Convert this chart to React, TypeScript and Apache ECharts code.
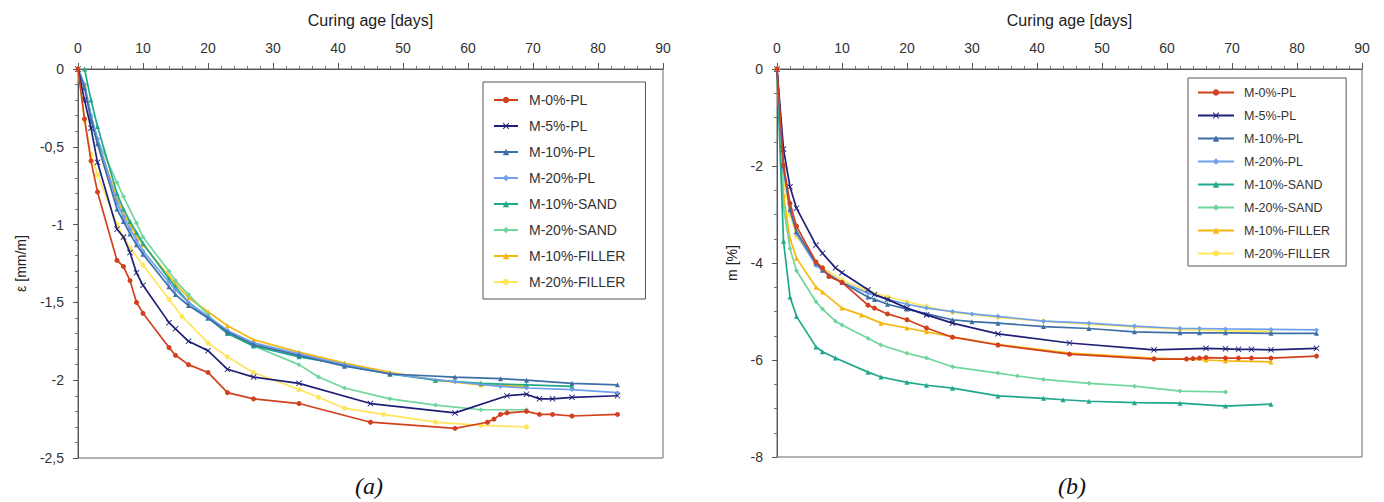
import React, { useEffect, useRef } from "react";
import * as echarts from "echarts";

const SERIES_NAMES = [
  "M-0%-PL",
  "M-5%-PL",
  "M-10%-PL",
  "M-20%-PL",
  "M-10%-SAND",
  "M-20%-SAND",
  "M-10%-FILLER",
  "M-20%-FILLER",
];

const COLORS = ["#d2401e", "#1f1f78", "#3e6ea6", "#6fa0ec", "#1fa88c", "#70d69c", "#f6b70f", "#ffe55a"];

const X_AXIS_NAME = "Curing age [days]";
const Y_NAME_A = "ε [mm/m]";
const Y_NAME_B = "m [%]";

// (a) strain ε [mm/m] vs curing age [days]
const EPS_M0PL = [[0,0],[1,-0.32],[2,-0.59],[3,-0.79],[6,-1.23],[7,-1.27],[8,-1.36],[9,-1.5],[10,-1.57],[14,-1.79],[15,-1.84],[17,-1.9],[20,-1.95],[23,-2.08],[27,-2.12],[34,-2.15],[45,-2.27],[58,-2.31],[63,-2.27],[64,-2.25],[65,-2.22],[66,-2.21],[69,-2.2],[71,-2.22],[73,-2.22],[76,-2.23],[83,-2.22]];
const EPS_M5PL = [[0,0],[1,-0.2],[2,-0.38],[3,-0.6],[6,-1.03],[7,-1.08],[8,-1.18],[9,-1.31],[10,-1.39],[14,-1.63],[15,-1.67],[17,-1.75],[20,-1.81],[23,-1.93],[27,-1.98],[34,-2.02],[45,-2.15],[58,-2.21],[66,-2.1],[69,-2.09],[71,-2.12],[73,-2.12],[76,-2.11],[83,-2.1]];
const EPS_M10PL = [[0,0],[1,-0.12],[2,-0.33],[3,-0.48],[6,-0.9],[7,-0.98],[8,-1.06],[9,-1.13],[10,-1.19],[14,-1.4],[15,-1.45],[17,-1.52],[20,-1.6],[23,-1.69],[27,-1.77],[34,-1.84],[41,-1.91],[48,-1.96],[58,-1.98],[65,-1.99],[69,-2.0],[76,-2.02],[83,-2.03]];
const EPS_M20PL = [[0,0],[1,-0.1],[2,-0.3],[3,-0.45],[6,-0.86],[7,-0.95],[8,-1.03],[9,-1.1],[10,-1.17],[14,-1.37],[15,-1.42],[17,-1.5],[20,-1.59],[23,-1.68],[27,-1.76],[34,-1.83],[41,-1.9],[48,-1.96],[58,-2.01],[65,-2.04],[69,-2.05],[76,-2.06],[83,-2.08]];
const EPS_M10SAND = [[1,0],[2,-0.2],[3,-0.37],[6,-0.8],[7,-0.9],[8,-0.98],[9,-1.05],[10,-1.12],[14,-1.35],[15,-1.4],[17,-1.5],[20,-1.6],[23,-1.7],[27,-1.78],[34,-1.85],[41,-1.9],[48,-1.96],[55,-2.0],[62,-2.02],[69,-2.03],[76,-2.04]];
const EPS_M20SAND = [[0,0],[1,-0.1],[2,-0.3],[3,-0.45],[6,-0.73],[7,-0.82],[9,-0.99],[10,-1.08],[14,-1.3],[15,-1.36],[17,-1.45],[20,-1.58],[23,-1.7],[27,-1.78],[34,-1.9],[37,-1.98],[41,-2.05],[48,-2.12],[55,-2.16],[62,-2.19],[69,-2.19]];
const EPS_M10FILLER = [[0,0],[1,-0.1],[2,-0.3],[3,-0.46],[6,-0.83],[7,-0.93],[8,-1.0],[9,-1.07],[10,-1.13],[14,-1.33],[15,-1.38],[17,-1.47],[20,-1.56],[23,-1.65],[27,-1.74],[34,-1.82],[41,-1.89],[48,-1.95],[55,-2.0],[62,-2.03],[69,-2.04]];
const EPS_M20FILLER = [[0,0],[1,-0.33],[2,-0.55],[3,-0.68],[6,-1.0],[7,-1.08],[8,-1.15],[10,-1.26],[14,-1.48],[16,-1.59],[20,-1.76],[23,-1.85],[27,-1.95],[34,-2.06],[37,-2.11],[41,-2.18],[47,-2.22],[55,-2.27],[62,-2.29],[69,-2.3]];

// (b) mass change m [%] vs curing age [days]
const M_M0PL = [[0,0],[1,-1.98],[2,-2.77],[3,-3.24],[6,-3.98],[7,-4.1],[8,-4.28],[10,-4.4],[14,-4.87],[15,-4.93],[17,-5.05],[20,-5.17],[23,-5.34],[27,-5.53],[34,-5.69],[45,-5.88],[58,-5.98],[63,-5.98],[64,-5.97],[65,-5.96],[66,-5.95],[69,-5.96],[71,-5.96],[73,-5.96],[76,-5.96],[83,-5.92]];
const M_M5PL = [[0,0],[1,-1.65],[2,-2.43],[3,-2.87],[6,-3.63],[7,-3.8],[9,-4.1],[10,-4.2],[14,-4.55],[15,-4.65],[17,-4.75],[20,-4.93],[23,-5.07],[27,-5.24],[34,-5.46],[45,-5.65],[58,-5.79],[66,-5.76],[69,-5.77],[71,-5.78],[73,-5.78],[76,-5.79],[83,-5.76]];
const M_M10PL = [[0,0],[1,-2.0],[2,-2.9],[3,-3.35],[6,-4.0],[7,-4.15],[8,-4.25],[10,-4.4],[14,-4.7],[15,-4.75],[17,-4.85],[20,-4.95],[23,-5.05],[27,-5.17],[30,-5.21],[34,-5.24],[41,-5.31],[48,-5.35],[55,-5.42],[62,-5.44],[65,-5.44],[69,-5.44],[76,-5.45],[83,-5.45]];
const M_M20PL = [[0,0],[1,-2.1],[2,-2.9],[3,-3.4],[6,-4.05],[7,-4.15],[10,-4.4],[14,-4.62],[17,-4.75],[20,-4.85],[23,-4.93],[27,-5.0],[30,-5.05],[34,-5.1],[41,-5.2],[48,-5.24],[55,-5.3],[62,-5.35],[65,-5.35],[69,-5.36],[76,-5.37],[83,-5.38]];
const M_M10SAND = [[0,0],[1,-3.55],[2,-4.7],[3,-5.1],[6,-5.73],[7,-5.83],[9,-5.96],[14,-6.25],[16,-6.35],[20,-6.46],[23,-6.52],[27,-6.58],[34,-6.74],[41,-6.79],[44,-6.82],[48,-6.85],[55,-6.88],[62,-6.89],[69,-6.95],[76,-6.91]];
const M_M20SAND = [[0,0],[1,-2.85],[2,-3.7],[3,-4.16],[6,-4.8],[7,-4.95],[9,-5.2],[10,-5.28],[14,-5.55],[16,-5.69],[20,-5.86],[23,-5.96],[27,-6.14],[34,-6.27],[37,-6.33],[41,-6.4],[48,-6.48],[55,-6.54],[62,-6.64],[69,-6.66]];
const M_M10FILLER = [[0,0],[1,-2.6],[2,-3.5],[3,-3.9],[6,-4.5],[7,-4.6],[10,-4.93],[13,-5.07],[16,-5.24],[20,-5.34],[23,-5.42],[27,-5.52],[34,-5.68],[45,-5.86],[58,-5.96],[66,-6.0],[69,-6.02],[76,-6.04]];
const M_M20FILLER = [[0,0],[1,-2.3],[2,-3.0],[3,-3.45],[6,-4.0],[7,-4.1],[10,-4.35],[14,-4.58],[17,-4.7],[20,-4.8],[23,-4.9],[27,-5.02],[34,-5.12],[41,-5.2],[48,-5.26],[55,-5.32],[62,-5.37],[69,-5.4],[76,-5.41]];

const DATA_A = [EPS_M0PL, EPS_M5PL, EPS_M10PL, EPS_M20PL, EPS_M10SAND, EPS_M20SAND, EPS_M10FILLER, EPS_M20FILLER];
const DATA_B = [M_M0PL, M_M5PL, M_M10PL, M_M20PL, M_M10SAND, M_M20SAND, M_M10FILLER, M_M20FILLER];

const X_SYMBOL = "path://M0,1L1,0L5,4L9,0L10,1L6,5L10,9L9,10L5,6L1,10L0,9L4,5Z";
const SYMBOLS = ["circle", X_SYMBOL, "triangle", "diamond", "triangle", "diamond", "triangle", "circle"];

const FONT = "Liberation Sans, Arial, sans-serif";
const AXIS_COLOR = "#555";

function xAxisCfg(gridIndex: number) {
  return {
    gridIndex,
    type: "value",
    position: "top",
    min: 0,
    max: 90,
    interval: 10,
    axisLine: { show: true, onZero: false, lineStyle: { color: AXIS_COLOR, width: 1 } },
    axisTick: { show: true, inside: false, length: 6, lineStyle: { color: AXIS_COLOR } },
    minorTick: { show: true, splitNumber: 5, length: 3, lineStyle: { color: "#777" } },
    splitLine: { show: false },
    axisLabel: { fontSize: 14, color: "#333", margin: 14, fontFamily: FONT },
    name: X_AXIS_NAME,
    nameLocation: "middle",
    nameGap: 41,
    nameTextStyle: { fontSize: 16, color: "#222", fontFamily: FONT },
  };
}

function yAxisCfg(gridIndex: number, min: number, interval: number, minorSplit: number, name: string, nameGap: number) {
  return {
    gridIndex,
    type: "value",
    min,
    max: 0,
    interval,
    axisLine: { show: true, onZero: false, lineStyle: { color: AXIS_COLOR, width: 1 } },
    axisTick: { show: true, inside: false, length: 5, lineStyle: { color: AXIS_COLOR } },
    minorTick: { show: true, splitNumber: minorSplit, length: 3, lineStyle: { color: "#777" } },
    splitLine: { show: false },
    axisLabel: {
      fontSize: 14,
      color: "#333",
      margin: 14,
      fontFamily: FONT,
      formatter: (v: number) => String(v).replace(".", ","),
    },
    name,
    nameLocation: "middle",
    nameRotate: 90,
    nameGap,
    nameTextStyle: { fontSize: 14, color: "#222", fontFamily: FONT },
  };
}

function buildSeries(data: number[][][], idx: number, size: number) {
  return data.map((d, i) => ({
    name: SERIES_NAMES[i],
    type: "line",
    xAxisIndex: idx,
    yAxisIndex: idx,
    data: d,
    symbol: SYMBOLS[i],
    symbolSize: i === 1 ? size + 1 : size,
    showSymbol: true,
    lineStyle: { width: 1.7, color: COLORS[i] },
    itemStyle: { color: COLORS[i] },
    z: 10 - i,
  }));
}

export default function App() {
  const ref = useRef<HTMLDivElement>(null);
  useEffect(() => {
    if (!ref.current) return;
    const chart = echarts.init(ref.current, undefined, { renderer: "svg" });
    const option = {
      animation: false,
      backgroundColor: "#ffffff",
      color: COLORS,
      grid: [
        { left: 78, top: 69, width: 585, height: 389, show: true, borderColor: "#666", borderWidth: 1, backgroundColor: "transparent" },
        { left: 777, top: 69, width: 585, height: 388, show: true, borderColor: "#666", borderWidth: 1, backgroundColor: "transparent" },
      ],
      xAxis: [xAxisCfg(0), xAxisCfg(1)],
      yAxis: [
        yAxisCfg(0, -2.5, 0.5, 5, Y_NAME_A, 50),
        yAxisCfg(1, -8, 2, 4, Y_NAME_B, 38),
      ],
      legend: [
        {
          data: SERIES_NAMES,
          orient: "vertical",
          left: 483,
          top: 82,
          padding: [11, 20, 10, 10],
          itemGap: 12,
          itemWidth: 24,
          itemHeight: 8,
          borderColor: "#555",
          borderWidth: 1,
          backgroundColor: "#fff",
          textStyle: { fontSize: 14, color: "#333", fontFamily: FONT, padding: [0, 0, 0, 6] },
          selectedMode: false,
        },
        {
          data: SERIES_NAMES,
          orient: "vertical",
          left: 1188,
          top: 78,
          padding: [8, 16, 6, 9],
          itemGap: 10,
          itemWidth: 36,
          itemHeight: 8,
          borderColor: "#555",
          borderWidth: 1,
          backgroundColor: "#fff",
          textStyle: { fontSize: 12.5, color: "#333", fontFamily: FONT, padding: [0, 0, 0, 5] },
          selectedMode: false,
        },
      ],
      series: [...buildSeries(DATA_A, 0, 5), ...buildSeries(DATA_B, 1, 5)],
      graphic: [
        {
          type: "text",
          left: 355,
          top: 474,
          style: { text: "(a)", font: "italic 24px 'Liberation Serif', 'Times New Roman', serif", fill: "#111" },
        },
        {
          type: "text",
          left: 1058,
          top: 474,
          style: { text: "(b)", font: "italic 24px 'Liberation Serif', 'Times New Roman', serif", fill: "#111" },
        },
      ],
    };
    chart.setOption(option as any);
    return () => chart.dispose();
  }, []);
  return (
    <div
      ref={ref}
      style={{ position: "absolute", left: 0, top: 0, width: 1384, height: 502, background: "#fff" }}
    />
  );
}
